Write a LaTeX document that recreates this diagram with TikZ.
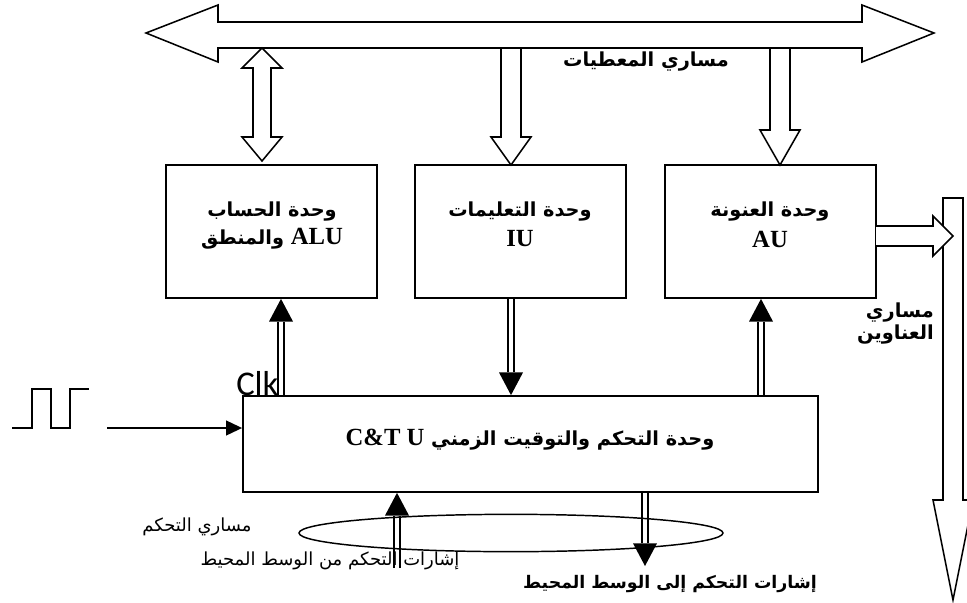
\documentclass[tikz,border=0pt]{standalone}
\usepackage{fontspec}
\usetikzlibrary{calc,arrows.meta,fit,shapes.geometric}
\TeXXeTstate=1
\newfontfamily\arabicfont[Script=Arabic]{DejaVu Sans}
\newfontfamily\serifb{Liberation Serif}
\newfontfamily\clkfont{Carlito}
\newcommand\AR[1]{{\arabicfont\beginR #1\endR}}
\newcommand\LT[1]{{\serifb\bfseries\fontsize{18.5}{20}\selectfont #1}}
% double-line connector with filled head, tip at #2
\newcommand\dconn[2]{%
  \coordinate (hb) at ($(#2)!17pt!(#1)$);
  \draw[conn] ($(#1)!2.1pt!90:(hb)$) -- ($(hb)!2.1pt!-90:(#1)$);
  \draw[conn] ($(#1)!2.1pt!-90:(hb)$) -- ($(hb)!2.1pt!90:(#1)$);
  \fill ($(hb)!9pt!90:(#2)$) -- (#2) -- ($(hb)!9pt!-90:(#2)$) -- cycle;
}
\tikzset{
  unit/.style={draw, line width=1.3pt, fill=white, inner sep=0pt},
  blk/.style={draw, line width=1.15pt, fill=white, line join=miter},
  conn/.style={line width=1.3pt},
  lbl/.style={inner sep=0pt, font=\arabicfont\bfseries\fontsize{14.5}{16}\selectfont},
  lbls/.style={inner sep=0pt, font=\arabicfont\bfseries\fontsize{13}{15}\selectfont},
  lblr/.style={inner sep=0pt, font=\arabicfont\fontsize{13.5}{15}\selectfont},
}
\begin{document}
\begin{tikzpicture}[x=0.75pt,y=-0.75pt]
\useasboundingbox (0,0) rectangle (967,603);

% units
\node[unit, fit={(166,165)(377,298)}] (alu) {};
\node[unit, fit={(415,165)(626,298)}] (iu) {};
\node[unit, fit={(665,165)(876,298)}] (au) {};
\node[unit, fit={(243,396)(818,492)}] (cu) {};

% data bus
\draw[blk] (146,33) -- (218,5) -- (218,22) -- (862,22) -- (862,5) -- (934,33)
  -- (862,62) -- (862,48) -- (218,48) -- (218,62) -- cycle;
% ALU <-> bus
\draw[blk] (262,48) -- (282,68) -- (271,68) -- (271,137) -- (282,137) -- (262,161)
  -- (242,137) -- (253,137) -- (253,68) -- (242,68) -- cycle;
% bus -> IU
\draw[blk] (501,48) -- (521,48) -- (521,137) -- (531,137) -- (511,165) -- (491,137)
  -- (501,137) -- cycle;
% bus -> AU
\draw[blk] (770,48) -- (790,48) -- (790,130) -- (800,130) -- (780,165) -- (760,130)
  -- (770,130) -- cycle;
% address bus
\draw[blk] (943,198) -- (963,198) -- (963,500) -- (973,500) -- (953,600) -- (933,500)
  -- (943,500) -- cycle;
% AU -> address bus
\draw[blk] (876,226) -- (933,226) -- (933,216) -- (953,236) -- (933,256) -- (933,246)
  -- (876,246);

% labels
\node[lbl] (dbus) at (646,62) {\AR{مساري المعطيات}};
\node[lbl] (alu1) at (272,212) {\AR{وحدة الحساب}};
\node[lbl] (alu2) at (272,239) {\AR{والمنطق}\ \LT{ALU}};
\node[lbl] (iu1) at (520,212) {\AR{وحدة التعليمات}};
\node[lbl] (iu2) at (520,239) {\LT{IU}};
\node[lbl] (au1) at (770,212) {\AR{وحدة العنونة}};
\node[lbl] (au2) at (770,239) {\LT{AU}};
\node[lbl, anchor=east] (ab1) at (934,313) {\AR{مساري}};
\node[lbl, anchor=east] (ab2) at (934,335) {\AR{العناوين}};
\node[lbl] (cut) at (530,440) {\LT{C\&T U}\ \AR{وحدة التحكم والتوقيت الزمني}};

% clock
\draw[line width=1.3pt] (12,428) -| (32,389) -| (51,428) -| (70,389) -- (89,389);
\coordinate (clkin) at (107,428);
\draw[line width=1.5pt, -{Triangle[length=12pt,width=11pt]}] (clkin) -- (clkin -| cu.west);
\node[anchor=base west, inner sep=0pt, font=\clkfont\fontsize{26}{26}\selectfont] (clk) at (236,395) {Clk};

% control connectors
\coordinate (xa) at (281,0);
\coordinate (a0) at (cu.north -| xa);
\coordinate (a1) at (alu.south -| xa);
\dconn{a0}{a1}
\coordinate (xb) at (511,0);
\coordinate (b0) at (iu.south -| xb);
\coordinate (b1) at (cu.north -| xb);
\dconn{b0}{b1}
\coordinate (xc) at (761,0);
\coordinate (c0) at (cu.north -| xc);
\coordinate (c1) at (au.south -| xc);
\dconn{c0}{c1}

% control bus
\node[draw, ellipse, line width=1.1pt, minimum width=318pt, minimum height=28pt, inner sep=0pt] (cbus) at (511,533) {};
\coordinate (inb) at (397,568);
\coordinate (inbt) at (cu.south -| inb);
\dconn{inb}{inbt}
\coordinate (outb) at (645,566);
\coordinate (outbt) at (cu.south -| outb);
\dconn{outbt}{outb}

\node[lblr] (cbl) at (197,527) {\AR{مساري التحكم}};
\node[lblr] (inl) at (330,561) {\AR{إشارات التحكم من الوسط المحيط}};
\node[lbls] (outl) at (670,584) {\AR{إشارات التحكم إلى الوسط المحيط}};
\end{tikzpicture}
\end{document}
